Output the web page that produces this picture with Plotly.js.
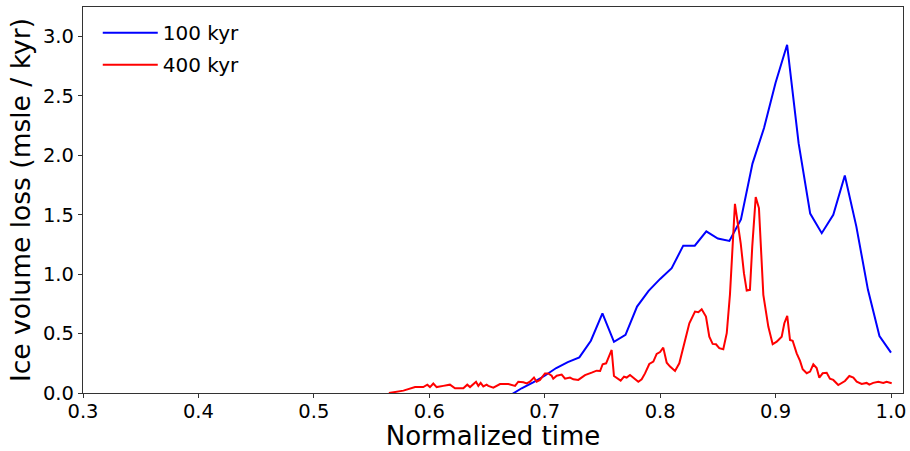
<!DOCTYPE html>
<html>
<head>
<meta charset="utf-8">
<script src="https://cdn.plot.ly/plotly-3.0.1.min.js"></script>
<style>html,body{margin:0;padding:0;background:#fff;}#chart{width:910px;height:451px;}</style>
</head>
<body>
<div id="chart"></div>
<script>
// 100 kyr series
const t100 = [0.67,0.68,0.69,0.70,0.71,0.72,0.73,0.74,0.75,0.76,0.77,0.78,0.79,0.80,0.81,0.82,0.83,0.84,0.85,0.86,0.87,0.88,0.89,0.90,0.91,0.92,0.93,0.94,0.95,0.96,0.97,0.98,0.99,1.00];
const v100 = [-0.02,0.04,0.09,0.145,0.21,0.26,0.30,0.44,0.67,0.43,0.49,0.727,0.86,0.96,1.05,1.24,1.24,1.36,1.30,1.28,1.46,1.93,2.23,2.61,2.93,2.10,1.51,1.345,1.50,1.83,1.40,0.87,0.48,0.34];

// 400 kyr series
const t400 = [0.565,0.5776,0.5877,0.5948,0.5983,0.6006,0.6035,0.6064,0.6121,0.6179,0.6223,0.6295,0.6329,0.6353,0.6405,0.6425,0.6445,0.6468,0.6497,0.6511,0.6555,0.6613,0.6685,0.6743,0.6771,0.6815,0.6844,0.6872,0.6907,0.6930,0.6959,0.7002,0.7031,0.7060,0.7074,0.7104,0.7147,0.7176,0.7219,0.7248,0.7291,0.7349,0.7407,0.7450,0.7480,0.7502,0.7532,0.7580,0.7600,0.7637,0.7658,0.7687,0.7710,0.7739,0.7768,0.7811,0.7840,0.7869,0.7906,0.7941,0.7970,0.7999,0.8027,0.8057,0.8086,0.8129,0.8166,0.8201,0.8253,0.8302,0.8331,0.8360,0.8397,0.8426,0.8455,0.8484,0.8512,0.8547,0.8577,0.8605,0.8648,0.8698,0.8726,0.8750,0.8778,0.8798,0.8828,0.8856,0.8894,0.8937,0.8975,0.9010,0.9053,0.9076,0.9101,0.9125,0.9148,0.9183,0.9212,0.9235,0.9270,0.9299,0.9327,0.9356,0.9379,0.9408,0.9443,0.9471,0.9500,0.9543,0.9601,0.9639,0.9674,0.9703,0.9746,0.9789,0.9812,0.9846,0.9890,0.9933,0.9962,1.0006];
const v400 = [0.0,0.02,0.05,0.05,0.07,0.05,0.08,0.05,0.06,0.07,0.04,0.04,0.07,0.05,0.095,0.06,0.085,0.055,0.07,0.06,0.045,0.075,0.075,0.06,0.095,0.09,0.08,0.095,0.13,0.095,0.11,0.165,0.165,0.145,0.12,0.145,0.155,0.12,0.13,0.115,0.11,0.15,0.171,0.188,0.185,0.242,0.25,0.362,0.143,0.12,0.104,0.137,0.13,0.152,0.13,0.095,0.115,0.165,0.244,0.264,0.329,0.345,0.382,0.255,0.222,0.185,0.25,0.39,0.587,0.685,0.68,0.705,0.643,0.474,0.413,0.41,0.377,0.368,0.503,0.83,1.592,1.26,1.008,0.862,0.868,1.232,1.648,1.556,0.826,0.559,0.41,0.432,0.474,0.587,0.649,0.447,0.44,0.334,0.27,0.2,0.166,0.18,0.242,0.21,0.129,0.166,0.17,0.12,0.11,0.067,0.101,0.143,0.13,0.095,0.076,0.085,0.07,0.085,0.095,0.085,0.095,0.082];

const names = ['100 kyr','400 kyr'];
const colors = ['#0000ff','#ff0000'];
const xTicks = [0.3,0.4,0.5,0.6,0.7,0.8,0.9,1.0];
const yTicks = [0.0,0.5,1.0,1.5,2.0,2.5,3.0];

const traces = [
  {x:t100, y:v100, name:names[0], legendgroup:'a', type:'scatter', mode:'lines', line:{color:colors[0], width:2}},
  {x:t400, y:v400, name:names[1], legendgroup:'b', type:'scatter', mode:'lines', line:{color:colors[1], width:2}}
];

const axisCommon = {
  showgrid:false, zeroline:false, showline:true, mirror:true,
  linecolor:'#333', linewidth:1.2, ticks:'outside', ticklen:4, tickwidth:1, tickcolor:'#333',
  tickfont:{family:'DejaVu Sans', size:19.5, color:'#000'}, tickformat:'.1f'
};

const layout = {
  width:910, height:451,
  margin:{l:83, r:7, t:7, b:58},
  paper_bgcolor:'#fff', plot_bgcolor:'#fff',
  font:{family:'DejaVu Sans', color:'#000'},
  showlegend:true,
  legend:{x:0.018, y:0.984, xanchor:'left', yanchor:'top', bgcolor:'rgba(0,0,0,0)', font:{family:'DejaVu Sans', size:20, color:'#000'}, traceorder:'grouped', tracegroupgap:3, itemwidth:55},
  xaxis:Object.assign({}, axisCommon, {range:[0.3,1.0104], tickvals:xTicks, ticklabelstandoff:-4,
    title:{text:'Normalized time', font:{family:'DejaVu Sans', size:26, color:'#000'}, standoff:4}}),
  yaxis:Object.assign({}, axisCommon, {range:[0,3.248], tickvals:yTicks,
    title:{text:'Ice volume loss (msle / kyr)', font:{family:'DejaVu Sans', size:26.5, color:'#000'}, standoff:4}})
};

Plotly.newPlot('chart', traces, layout, {displayModeBar:false, staticPlot:true});
</script>
</body>
</html>
